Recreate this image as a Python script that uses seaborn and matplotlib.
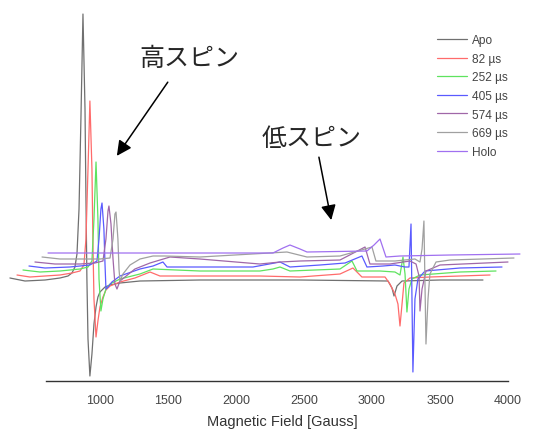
import numpy as np
import pandas as pd
import matplotlib
matplotlib.use("Agg")
import matplotlib.pyplot as plt
import seaborn as sns

# EPR spectra (waterfall, as drawn), field in Gauss, intensity in a.u.
SAMPLES = ["Apo", "82 µs", "252 µs", "405 µs", "574 µs", "669 µs", "Holo"]
COLORS = ["#707070", "#ff6b6b", "#5fe35f", "#5a5aff", "#a067a8", "#a0a0a0", "#a070f0"]

apo_field = [338, 449, 596, 706, 765, 794, 816, 831, 846, 860, 875, 890, 897, 904, 912, 926, 941, 956,
             971, 985, 1000, 1037, 1074, 1147, 1294, 1735, 2471, 3118, 3147, 3162, 3184, 3221, 3500, 3816]
apo_int = [103, 100, 101, 103, 105, 108, 114, 127, 172, 262, 367, 272, 182, 102, 42, 5, 27, 57,
           74, 84, 89, 94, 96, 98, 100, 101, 101, 100, 93, 85, 95, 100, 101, 101]

s82_field = [390, 485, 596, 706, 794, 853, 882, 897, 912, 926, 941, 949, 956, 971, 985, 1000, 1022, 1044,
             1074, 1147, 1257, 1368, 1441, 1735, 2176, 2471, 2765, 2860, 2897, 2926, 3096, 3132, 3169,
             3191, 3206, 3221, 3235, 3279, 3426, 3647, 3868]
s82_int = [106, 104, 105, 106, 108, 110, 116, 142, 212, 280, 212, 132, 82, 44, 60, 74, 84, 91,
           95, 99, 103, 109, 105, 105, 105, 104, 107, 113, 108, 104, 104, 97, 87,
           77, 55, 77, 98, 103, 104, 105, 106]

s252_field = [434, 559, 706, 853, 912, 941, 956, 971, 985, 993, 1007, 1022, 1044, 1074, 1147, 1294, 1390,
              1735, 2176, 2272, 2324, 2397, 2765, 2853, 2890, 3059, 3169, 3206, 3228, 3243, 3257, 3272,
              3294, 3353, 3647, 3912]
s252_int = [111, 109, 110, 112, 114, 120, 162, 219, 162, 102, 70, 82, 92, 97, 102, 107, 112,
            110, 110, 112, 114, 110, 112, 120, 110, 110, 109, 106, 124, 107, 69, 92,
            102, 106, 109, 110]

s405_field = [478, 596, 779, 926, 978, 993, 1007, 1015, 1029, 1037, 1044, 1059, 1088, 1147, 1294, 1390,
              1463, 1493, 1735, 2125, 2324, 2397, 2618, 2802, 2926, 2963, 3081, 3169, 3243, 3272, 3287,
              3301, 3316, 3338, 3390, 3647, 3956]
s405_int = [115, 113, 114, 116, 120, 142, 172, 178, 152, 117, 92, 94, 99, 105, 112, 115,
            119, 114, 114, 114, 119, 114, 116, 118, 125, 114, 115, 116, 114, 114, 157,
            9, 82, 102, 110, 113, 114]

s574_field = [522, 669, 853, 963, 1022, 1044, 1059, 1066, 1081, 1096, 1110, 1125, 1147, 1257, 1368, 1515,
              1735, 2176, 2324, 2471, 2765, 2949, 2985, 3132, 3279, 3324, 3346, 3353, 3368, 3397, 3500, 4000]
s574_int = [119, 117, 117, 118, 120, 142, 170, 175, 157, 122, 97, 92, 100, 112, 118, 124,
            122, 117, 119, 120, 121, 134, 117, 117, 120, 117, 105, 70, 92, 110, 116, 119]

s669_field = [574, 706, 890, 1000, 1074, 1096, 1110, 1118, 1132, 1140, 1147, 1169, 1221, 1294, 1390, 1478,
              1735, 2375, 2522, 2765, 3000, 3029, 3169, 3316, 3353, 3368, 3382, 3397, 3412, 3426, 3471,
              3574, 4044]
s669_int = [124, 122, 122, 122, 123, 142, 167, 169, 142, 112, 100, 107, 116, 122, 125, 125,
            124, 129, 124, 125, 134, 120, 120, 122, 119, 132, 160, 37, 82, 107, 119,
            121, 123]

holo_field = [618, 1000, 1735, 2272, 2346, 2397, 2471, 2522, 2963, 3015, 3059, 3103, 3206, 3574, 4088]
holo_int = [128, 128, 128, 128, 133, 136, 132, 129, 130, 136, 142, 124, 125, 126, 127]

FIELDS = [apo_field, s82_field, s252_field, s405_field, s574_field, s669_field, holo_field]
INTENSITIES = [apo_int, s82_int, s252_int, s405_int, s574_int, s669_int, holo_int]

frames = []
for name, xs, ys in zip(SAMPLES, FIELDS, INTENSITIES):
    frames.append(pd.DataFrame({"field": xs, "intensity": ys, "sample": name}))
df = pd.concat(frames, ignore_index=True)

sns.set_style("white")
plt.rcParams["font.family"] = ["Liberation Sans", "DejaVu Sans"]

fig = plt.figure(figsize=(5.36, 4.31), dpi=100)
ax = fig.add_axes([0.0, 0.1137, 1.0, 0.870])

sns.lineplot(data=df, x="field", y="intensity", hue="sample", hue_order=SAMPLES,
             palette=COLORS, sort=False, estimator=None, linewidth=0.9, ax=ax)

ax.set_xlim(265, 4206)
ax.set_ylim(0, 375)
for side in ["top", "right", "left"]:
    ax.spines[side].set_visible(False)
ax.spines["bottom"].set_bounds(600, 4000)
ax.spines["bottom"].set_color("#333333")
ax.spines["bottom"].set_linewidth(1.0)
ax.set_yticks([])
ax.set_ylabel("")

ax.set_xticks([1000, 1500, 2000, 2500, 3000, 3500, 4000])
ax.set_xticks([750, 1250, 1750, 2250, 2750, 3250, 3750], minor=True)
ax.tick_params(axis="x", which="major", direction="out", length=4.5, width=1.0, color="#333333",
               labelsize=9, labelcolor="#444444", pad=5)
ax.tick_params(axis="x", which="minor", direction="out", length=2.8, width=1.0, color="#333333")
ax.set_xlabel("Magnetic Field [Gauss]", fontsize=10.5, color="#333333")
ax.xaxis.set_label_coords(0.526, -0.088)

handles, labels = ax.get_legend_handles_labels()
ax.legend(handles, labels, frameon=False, fontsize=8.6, loc="upper left",
          bbox_to_anchor=(0.815, 0.918), bbox_transform=fig.transFigure,
          borderpad=0, borderaxespad=0, handlelength=2.5, handletextpad=0.45,
          labelspacing=0.55, labelcolor="#444444")

jp = ["Noto Sans CJK JP", "DejaVu Sans"]
fig.text(0.353, 0.862, "高スピン", family=jp, fontsize=18, ha="center", va="center")
fig.text(0.582, 0.677, "低スピン", family=jp, fontsize=18, ha="center", va="center")
arrow = dict(arrowstyle="-|>,head_length=0.9,head_width=0.45", color="black", lw=1.1,
             shrinkA=0, shrinkB=0)
ax.annotate("", xy=(0.218, 0.636), xytext=(0.313, 0.807), xycoords="figure fraction",
            textcoords="figure fraction", arrowprops=arrow)
ax.annotate("", xy=(0.618, 0.487), xytext=(0.595, 0.633), xycoords="figure fraction",
            textcoords="figure fraction", arrowprops=arrow)

fig.savefig("out.png", dpi=100)
